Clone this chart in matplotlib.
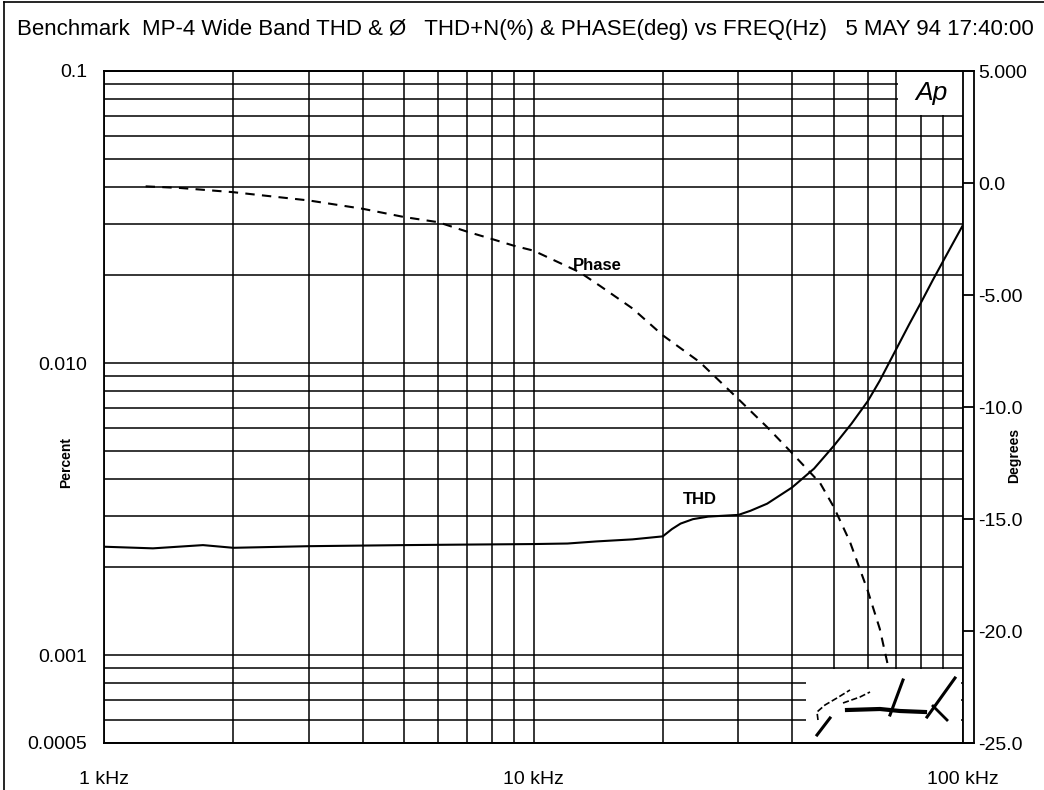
import matplotlib
matplotlib.use("Agg")
import matplotlib.pyplot as plt
from matplotlib.lines import Line2D
from matplotlib.patches import Rectangle
from matplotlib.ticker import FixedLocator, LogLocator, NullFormatter, FixedFormatter

plt.rcParams["font.family"] = ["Liberation Sans", "DejaVu Sans"]

# THD+N (%) vs frequency (Hz), left log axis
thd_freq = [1000, 1300, 1700, 2000, 3000, 5000, 7000, 10000, 12000, 14000, 17000,
            20000, 21000, 22000, 23500, 25500, 30000, 32000, 35000, 40000, 45000,
            50000, 55000, 60000, 64000, 70000, 75000, 80000, 85000, 90000, 95000,
            100000]
thd_pct = [0.00235, 0.00232, 0.00238, 0.00233, 0.00236, 0.00238, 0.00239, 0.00240,
           0.00241, 0.00245, 0.00249, 0.00255, 0.00270, 0.00282, 0.00292, 0.00298,
           0.00302, 0.00312, 0.00330, 0.00375, 0.00435, 0.00520, 0.00620, 0.00740,
           0.00870, 0.01120, 0.01360, 0.01620, 0.01920, 0.02240, 0.02590, 0.02970]

# Phase (deg) vs frequency (Hz), right linear axis
phase_freq = [1250, 1500, 2000, 3000, 4000, 5000, 6000, 7000, 8000, 9000, 10000,
              12800, 14300, 17000, 20000, 24400, 30000, 35000, 40000, 46500, 50000,
              54500, 60000, 64000, 66800]
phase_deg = [-0.15, -0.22, -0.41, -0.78, -1.15, -1.52, -1.75, -2.17, -2.50, -2.80,
             -3.02, -3.98, -4.60, -5.60, -6.80, -8.00, -9.65, -10.90, -12.06, -13.40,
             -14.46, -16.00, -18.20, -19.90, -21.50]

left_ticks = [0.1, 0.01, 0.001, 0.0005]
left_labels = ["0.1", "0.010", "0.001", "0.0005"]
right_ticks = [5, 0, -5, -10, -15, -20, -25]
right_labels = ["5.000", "0.0", "-5.00", "-10.0", "-15.0", "-20.0", "-25.0"]
x_ticks = [1000, 10000, 100000]
x_labels = ["1 kHz", "10 kHz", "100 kHz"]

title = "Benchmark  MP-4 Wide Band THD & \u00d8   THD+N(%) & PHASE(deg) vs FREQ(Hz)   5 MAY 94 17:40:00"

W, H = 1044, 790
fig = plt.figure(figsize=(W / 100, H / 100), dpi=100)
fig.patch.set_facecolor("white")

# pixel geometry of the plot frame
X0, X1, XR, Y0, Y1 = 104, 963, 974, 71, 743


def fig_rect(x0, x1):
    return [x0 / W, (H - Y1) / H, (x1 - x0) / W, (Y1 - Y0) / H]


def px_to_axes(x, y):
    return (x - X0) / (X1 - X0), (Y1 - y) / (Y1 - Y0)


ax = fig.add_axes(fig_rect(X0, X1))
ax.set_xscale("log")
ax.set_yscale("log")
ax.set_xlim(1000, 100000)
ax.set_ylim(0.0005, 0.1)
ax.set_axisbelow(True)

ax.xaxis.set_major_locator(FixedLocator(x_ticks))
ax.xaxis.set_major_formatter(FixedFormatter(x_labels))
ax.xaxis.set_minor_locator(LogLocator(base=10, subs=range(2, 10)))
ax.xaxis.set_minor_formatter(NullFormatter())
ax.yaxis.set_major_locator(FixedLocator(left_ticks))
ax.yaxis.set_major_formatter(FixedFormatter(left_labels))
ax.yaxis.set_minor_locator(LogLocator(base=10, subs=range(2, 10)))
ax.yaxis.set_minor_formatter(NullFormatter())
ax.grid(True, which="both", color="black", linewidth=1.1)
ax.tick_params(which="both", length=0, labelsize=14)
ax.tick_params(axis="x", pad=20)
ax.tick_params(axis="y", pad=12)
for s in ax.spines.values():
    s.set_linewidth(1.3)

# blank boxes for the Ap logo and the signature
bx0, by0 = px_to_axes(898, 116.5)
ax.add_patch(Rectangle((bx0, by0 + 0.002), 1 - bx0, 1 - by0, transform=ax.transAxes,
                       facecolor="white", edgecolor="none", zorder=1.5))
sx0, sy1 = px_to_axes(806, 669)
ax.add_patch(Rectangle((sx0, 0.002), 0.998 - sx0, sy1 - 0.002, transform=ax.transAxes,
                       facecolor="white", edgecolor="none", zorder=1.5))
ax.text(*px_to_axes(931, 93), "Ap", transform=ax.transAxes, fontsize=19,
        fontstyle="italic", ha="center", va="center", zorder=4)

ax.plot(thd_freq, thd_pct, color="black", linewidth=1.5, zorder=3)
ax.text(24400, 0.0034, "THD", fontsize=12, fontweight="bold", ha="center", va="center", zorder=4)
ax.text(14100, 0.0215, "Phase", fontsize=12, fontweight="bold", ha="center", va="center", zorder=4)

# signature scribble (decoration)
strokes = [
    ([(818, 720), (817, 712), (825, 705), (837, 698), (850, 690)], "--", 1.2),
    ([(843, 703), (860, 697), (870, 692)], "--", 1.2),
    ([(817, 735), (830, 718)], "-", 2.2),
    ([(847, 710), (880, 709), (900, 711), (925, 712)], "-", 3.0),
    ([(890, 715), (903, 680)], "-", 2.2),
    ([(927, 717), (955, 678)], "-", 2.2),
    ([(933, 706), (947, 720)], "-", 2.0),
]
for pts, ls, lw in strokes:
    xs, ys = zip(*[px_to_axes(x, y) for x, y in pts])
    ax.plot(xs, ys, transform=ax.transAxes, color="black", linestyle=ls,
            linewidth=lw, zorder=4)

# phase on a twin scale sharing the frequency axis
axp = ax.twinx()
axp.set_ylim(-25, 5)
axp.axis("off")
axp.plot(phase_freq, phase_deg, color="black", linewidth=1.5, linestyle=(0, (4.5, 3.5)))

# outer frame carrying the degrees scale
axr = fig.add_axes(fig_rect(X0, XR), facecolor="none")
axr.set_ylim(-25, 5)
axr.set_xticks([])
axr.spines["left"].set_visible(False)
for s in axr.spines.values():
    s.set_linewidth(1.3)
axr.yaxis.tick_right()
axr.set_yticks(right_ticks)
axr.set_yticklabels(right_labels)
axr.tick_params(axis="y", direction="in", length=8, width=1.3, labelsize=14, pad=3)

fig.text(66 / W, 1 - 462 / H, "Percent", fontsize=10, fontweight="bold",
         rotation=90, ha="center", va="center")
fig.text(1014 / W, 1 - 455 / H, "Degrees", fontsize=10, fontweight="bold",
         rotation=90, ha="center", va="center")

fig.text(525 / W, 1 - 30 / H, title, fontsize=16, ha="center", va="center")

# border lines of the screen capture
fig.add_artist(Line2D([4 / W, 4 / W], [0, 1 - 2 / H], color="black", linewidth=1.2))
fig.add_artist(Line2D([4 / W, 1], [1 - 2 / H, 1 - 2 / H], color="black", linewidth=1.2))

fig.savefig("out.png", dpi=100)
